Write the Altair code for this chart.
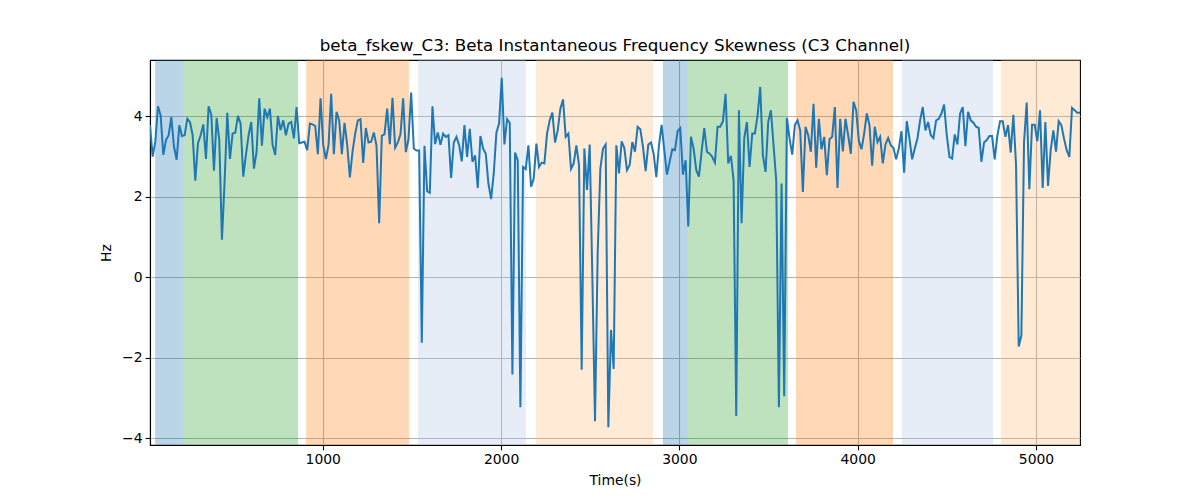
import altair as alt
import numpy as np
import pandas as pd

# skewness values, left to right
seg1 = [3.78, 3.00, 3.37, 4.25, 4.02, 3.04, 3.41, 3.53, 3.98, 3.25,
        2.92, 3.78, 3.51, 3.53, 3.94, 3.86, 3.53, 2.40, 3.33, 3.53,
        3.80, 2.94, 4.25, 4.04, 2.65, 3.96, 3.41, 0.93, 2.39, 4.09,
        2.94, 3.57, 3.59, 4.01, 3.82, 2.50, 3.04, 3.53, 3.86, 2.70,
        3.12, 4.45, 3.27, 4.19, 3.98, 4.19, 3.29, 3.04, 4.01, 3.66,
        3.90, 3.53, 3.82, 3.86, 3.45, 4.23, 3.33, 3.35, 3.37, 3.16,
        3.82]
seg2 = [3.80, 3.76, 3.06, 4.45, 3.29, 2.94, 3.29, 4.56, 3.06, 4.11,
        3.90, 3.06, 3.84, 3.29, 2.48, 3.12, 3.57, 3.90, 3.93, 2.84,
        3.71, 3.35, 3.37, 3.60, 3.27, 1.34, 3.52, 3.55, 4.19, 3.31,
        4.46, 3.22, 3.35, 3.55, 4.45, 3.11, 3.43, 4.59, 3.20, 3.15,
        3.15, -1.63, 3.27, 2.14, 2.10, 4.25, 3.31, 3.60, 3.29, 3.57,
        3.49, 3.53, 2.47, 3.35, 3.49, 3.29, 2.88, 3.78]
seg3 = [2.99, 3.69, 2.87, 3.03, 2.22, 3.51, 3.20, 3.07, 2.33, 1.94,
        2.58, 3.60, 3.82, 4.96, 3.30, 3.93, 3.84, -2.42, 3.10, 2.91,
        -3.23, 2.74, 2.69, 3.28, 2.25, 2.45, 3.32, 2.74, 2.85, 2.83,
        3.57, 3.90, 4.09, 3.35, 3.65, 4.19, 4.42, 3.49, 3.57, 2.69,
        2.83, 3.28, 2.79, -2.30, 3.20, 2.17, 3.30, 0.00, -3.58, 0.60,
        2.70, 3.20, 3.30, -3.73, -1.31, -2.28, 3.28, 2.58]
seg4 = [3.38, 3.21, 2.66, 2.79, 3.36, 3.12, 3.74, 3.68, 3.24, 2.64,
        3.30, 3.35, 3.07, 2.49, 3.28, 3.79, 3.16, 2.55, 2.87, 3.18,
        3.16, 3.63, 3.71, 2.55, 2.91, 1.26, 3.49, 3.20, 2.66, 2.50,
        3.12, 3.71, 3.12, 3.07, 2.99, 2.85, 3.74, 3.74, 3.88, 4.56,
        2.83, 3.02, 2.41, -3.45, 4.15, 1.34, 3.45, 3.86, 2.74, 3.57,
        3.57, 4.02, 4.73, 3.03, 2.62, 3.86, 4.15]
seg5 = [3.28, 2.41, -3.23, 2.33, -2.96, 3.96, 3.45, 3.05, 3.78, 3.90,
        3.65, 2.12, 3.74, 3.53, 3.12, 4.31, 2.72, 3.94, 3.18, 3.49,
        2.54, 3.43, 3.49, 4.23, 2.22, 3.94, 3.13, 3.94, 3.53, 3.07,
        4.36, 4.15, 3.40, 3.18, 3.57, 4.07, 3.78, 2.77, 3.74, 3.36,
        3.49, 2.83, 3.30, 3.46, 3.28, 3.21, 2.93, 3.20, 3.63, 2.60,
        3.88, 3.45, 2.93, 3.20, 3.45, 3.90, 4.23, 3.65, 3.86]
seg6 = [3.53, 3.46, 3.90, 3.94, 4.07, 4.29, 3.53, 2.99, 2.95, 3.55,
        3.30, 4.07, 4.23, 3.26, 4.11, 3.90, 3.84, 3.74, 3.71, 2.87,
        3.35, 3.41, 3.51, 3.51, 2.93, 3.53, 3.88, 3.88, 3.49, 3.78,
        3.10, 4.04, 2.79, -1.72, -1.45, 3.36, 4.34, 2.19, 3.79, 3.79,
        3.38, 4.15, 2.22, 3.86, 2.27, 3.16, 3.65, 3.12, 3.88, 3.78,
        3.45, 3.16, 2.99, 4.21, 4.15, 4.09, 4.09]

skew = seg1 + seg2 + seg3 + seg4 + seg5 + seg6
t_first, t_last = 31, 5247
time_s = np.linspace(t_first, t_last, len(skew))

# shaded segments
band_start = [63, 226, 910, 1537, 2199, 2911, 3052, 3657, 4251, 4806]
band_end = [220, 859, 1482, 2137, 2849, 3046, 3607, 4195, 4756, 5260]
band_kind = ['k1', 'k2', 'k3', 'k4', 'k5', 'k1', 'k2', 'k3', 'k4', 'k5']
kinds = ['k1', 'k2', 'k3', 'k4', 'k5']
kind_colors = ['#1f77b4', '#2ca02c', '#ff7f0e', '#aec7e8', '#ffbb78']

line_df = pd.DataFrame({'t': time_s, 'v': skew})
band_df = pd.DataFrame({'start': band_start, 'end': band_end, 'kind': band_kind})

x_scale = alt.Scale(domain=[t_first, t_last], nice=False, zero=False)
y_scale = alt.Scale(domain=[-4.17, 5.4], nice=False, zero=False)
kind_scale = alt.Scale(domain=kinds, range=kind_colors)

bands = alt.Chart(band_df).mark_rect(opacity=0.3, strokeWidth=1, clip=True).encode(
    x=alt.X('start:Q', scale=x_scale),
    x2='end:Q',
    color=alt.Color('kind:N', scale=kind_scale, legend=None),
    stroke=alt.Stroke('kind:N', scale=kind_scale, legend=None),
)

line = alt.Chart(line_df).mark_line(color='#1f77b4', strokeWidth=2, clip=True).encode(
    x=alt.X('t:Q', scale=x_scale, title='Time(s)',
            axis=alt.Axis(values=[1000, 2000, 3000, 4000, 5000], format='d')),
    y=alt.Y('v:Q', scale=y_scale, title='Hz',
            axis=alt.Axis(values=[-4, -2, 0, 2, 4], format='d')),
)

chart = alt.layer(bands, line).properties(
    width=930,
    height=385,
    title='beta_fskew_C3: Beta Instantaneous Frequency Skewness (C3 Channel)',
    autosize=alt.AutoSizeParams(type='none'),
    padding={'left': 142, 'top': 52, 'right': 112, 'bottom': 47},
).configure_view(
    stroke='black',
    strokeWidth=1.1
).configure_title(
    font='DejaVu Sans',
    fontSize=16.7,
    fontWeight='normal',
    color='black',
    anchor='middle',
    offset=5
).configure_axis(
    labelFont='DejaVu Sans',
    titleFont='DejaVu Sans',
    labelFontSize=13.9,
    titleFontSize=13.9,
    titleFontWeight='normal',
    labelColor='black',
    titleColor='black',
    domainColor='black',
    domainWidth=1.1,
    tickColor='black',
    tickSize=4.9,
    tickWidth=1.1,
    labelPadding=3,
    gridColor='#b0b0b0',
    gridWidth=1.1,
).configure_axisX(
    titlePadding=7
).configure_axisY(
    titlePadding=8
)

chart.save('out.html', embed_options={'renderer': 'svg', 'actions': False})
